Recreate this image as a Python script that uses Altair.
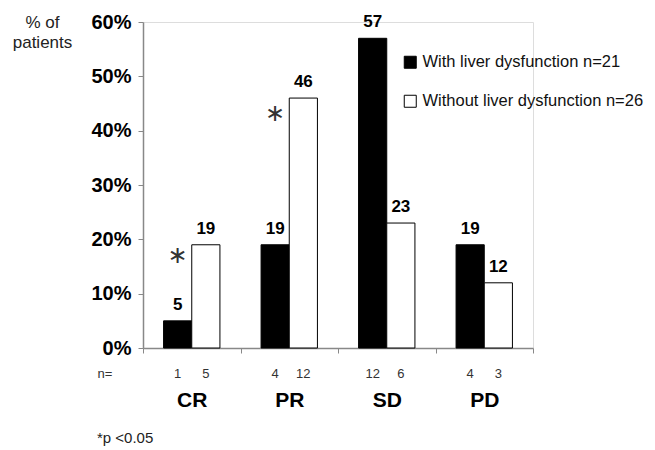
import altair as alt
import pandas as pd

categories = ["CR", "PR", "SD", "PD"]
groups = ["With liver dysfunction n=21", "Without liver dysfunction n=26"]
with_vals = [5, 19, 57, 19]
without_vals = [19, 46, 23, 12]
with_n = [1, 4, 12, 4]
without_n = [5, 12, 6, 3]
y_ticks = [0, 10, 20, 30, 40, 50, 60]

# significance markers (category, group bar it sits over, height in %)
ast_cats = ["CR", "PR"]
ast_pos = [17, 43]

rows = []
for i, c in enumerate(categories):
    rows.append({"category": c, "group": groups[0], "pct": with_vals[i], "n": with_n[i]})
    rows.append({"category": c, "group": groups[1], "pct": without_vals[i], "n": without_n[i]})
df = pd.DataFrame(rows)
ast_df = pd.DataFrame({"category": ast_cats, "group": [groups[0]] * len(ast_cats), "pos": ast_pos, "t": ["∗"] * len(ast_cats)})

FONT = "Liberation Sans"
W, H = 390, 326

x_enc = alt.X(
    "category:N", sort=categories,
    scale=alt.Scale(paddingInner=0, paddingOuter=0),
    axis=alt.Axis(title=None, labelAngle=0, labelFont=FONT, labelFontSize=21, labelFontWeight="bold",
                  labelColor="black", tickBand="extent", tickSize=5, tickColor="#888", domainColor="#888",
                  domainWidth=1.5, labelPadding=36),
)
xo_enc = alt.XOffset("group:N", sort=groups, scale=alt.Scale(paddingInner=0, paddingOuter=0.73))
y_scale = alt.Scale(domain=[0, 60])

bars = alt.Chart(df).mark_bar(stroke="black", strokeWidth=1).encode(
    x=x_enc, xOffset=xo_enc,
    y=alt.Y("pct:Q", scale=y_scale,
            axis=alt.Axis(values=y_ticks, labelExpr="datum.value + '%'", labelFont=FONT, labelFontSize=20,
                          labelFontWeight="bold", labelColor="black", labelPadding=7, tickSize=5,
                          tickColor="#888", domainColor="#888", domainWidth=1.5, grid=False,
                          title=["% of", "patients"], titleAngle=0, titleX=-101, titleY=5,
                          titleAlign="center", titleBaseline="alphabetic", titleFont=FONT,
                          titleFontSize=17, titleFontWeight="normal", titleLineHeight=20,
                          titleColor="#222")),
    fill=alt.Fill("group:N", scale=alt.Scale(domain=groups, range=["black", "white"]),
                  legend=alt.Legend(title=None, orient="none", legendX=259, legendY=32,
                                    symbolType="square", symbolSize=144, symbolStrokeColor="black",
                                    symbolStrokeWidth=1, labelFont=FONT, labelFontSize=16.5,
                                    labelColor="#111", rowPadding=22, labelOffset=4, padding=0,
                                    labelLimit=400)),
)

values = alt.Chart(df).mark_text(font=FONT, fontSize=17, fontWeight="bold", dy=-11,
                                 baseline="alphabetic", color="black").encode(
    x=alt.X("category:N", sort=categories), xOffset=alt.XOffset("group:N", sort=groups),
    y=alt.Y("pct:Q"), text="pct:Q",
)

ns = alt.Chart(df).mark_text(font=FONT, fontSize=13, color="#333", baseline="middle").encode(
    x=alt.X("category:N", sort=categories), xOffset=alt.XOffset("group:N", sort=groups),
    y=alt.value(H + 26), text="n:Q",
)

ast = alt.Chart(ast_df).mark_text(font="DejaVu Sans", fontSize=24, color="#333", baseline="middle").encode(
    x=alt.X("category:N", sort=categories), xOffset=alt.XOffset("group:N", sort=groups),
    y=alt.Y("pos:Q"), text="t:N",
)

n_label = alt.Chart(pd.DataFrame({"t": ["n="]})).mark_text(
    font=FONT, fontSize=13, color="#333", baseline="middle").encode(
    x=alt.value(-38), y=alt.value(H + 26), text="t:N")

foot = alt.Chart(pd.DataFrame({"t": ["*p <0.05"]})).mark_text(
    font=FONT, fontSize=15, color="#222", baseline="middle", align="left").encode(
    x=alt.value(-46), y=alt.value(H + 90), text="t:N")

chart = alt.layer(bars, values, ns, ast, n_label, foot).properties(
    width=W, height=H,
    autosize=alt.AutoSizeParams(type="none"),
    padding={"left": 135, "top": 14, "right": 114, "bottom": 100},
).configure_view(stroke=None).configure(background="white")

chart.save("out.html", embed_options={"renderer": "svg", "actions": False})
